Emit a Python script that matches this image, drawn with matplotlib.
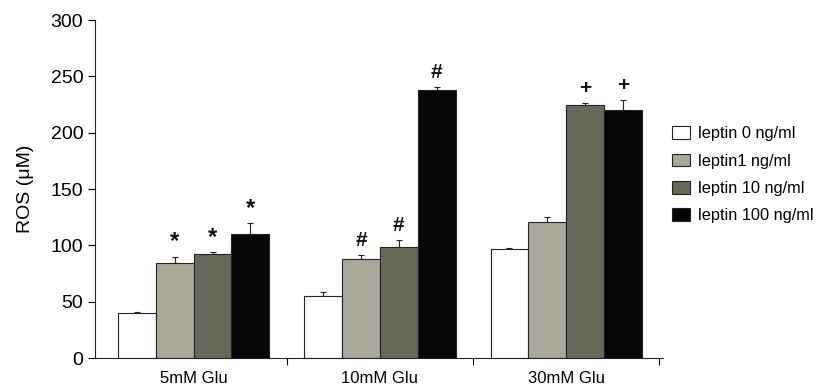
import matplotlib.pyplot as plt
import numpy as np

plt.rcParams['font.family'] = ['Liberation Sans', 'DejaVu Sans']

groups = ['5mM Glu', '10mM Glu', '30mM Glu']
series = ['leptin 0 ng/ml', 'leptin1 ng/ml', 'leptin 10 ng/ml', 'leptin 100 ng/ml']
colors = ['#ffffff', '#a9a89b', '#67685a', '#050505']

# mean ROS per group, one list per leptin dose
means = [
    [40, 55, 96.5],
    [84.5, 88, 120.5],
    [92.5, 99, 225],
    [110.5, 238, 220],
]
errs = [
    [1, 4, 1.5],
    [5.5, 3.5, 4.5],
    [1.5, 6, 1],
    [9.5, 2.5, 9],
]
# significance marks (series index, group index, symbol)
marks = [
    (1, 0, '*'), (2, 0, '*'), (3, 0, '*'),
    (1, 1, '#'), (2, 1, '#'), (3, 1, '#'),
    (2, 2, '+'), (3, 2, '+'),
]

fig = plt.figure(figsize=(8.16, 3.85), dpi=100)
ax = fig.add_axes([0.1164, 0.070, 0.6961, 0.878])

x = np.arange(len(groups))
w = 0.203
for i, name in enumerate(series):
    pos = x + (i - 1.5) * w
    ax.bar(pos, means[i], w, color=colors[i], edgecolor='#222222', linewidth=0.8,
           label=name, zorder=2)
    ax.errorbar(pos, means[i], yerr=[np.zeros(3), errs[i]], fmt='none',
                ecolor='#222222', elinewidth=0.8, capsize=2.5, capthick=0.8, zorder=1)

for i, g, sym in marks:
    top = means[i][g] + errs[i][g]
    ax.text(g + (i - 1.5) * w, top + 13, sym, ha='center', va='center',
            fontsize=17 if sym == '*' else 15, fontweight='bold', color='#111111')

ax.set_ylim(0, 300)
ax.set_xlim(-0.53, 2.52)
ax.set_yticks(np.arange(0, 301, 50))
ax.set_xticks(x)
ax.set_xticklabels(groups, fontsize=12)
ax.tick_params(axis='x', length=0, pad=9)
ax.set_xticks([0.5, 1.5, 2.5], minor=True)
ax.tick_params(axis='x', which='minor', length=5, width=0.8, direction='out')
ax.tick_params(axis='y', labelsize=14, length=5, width=0.8)
ax.set_ylabel('ROS (\u03bcM)', fontsize=14, labelpad=12)
for s in ['top', 'right']:
    ax.spines[s].set_visible(False)
for s in ['left', 'bottom']:
    ax.spines[s].set_linewidth(0.8)
    ax.spines[s].set_color('#222222')

fig.legend(loc='upper left', bbox_to_anchor=(0.806, 0.71), frameon=False,
           fontsize=11.8, handlelength=1.08, handleheight=0.8, labelspacing=0.75,
           handletextpad=0.45)

fig.savefig('out.png', dpi=100)
